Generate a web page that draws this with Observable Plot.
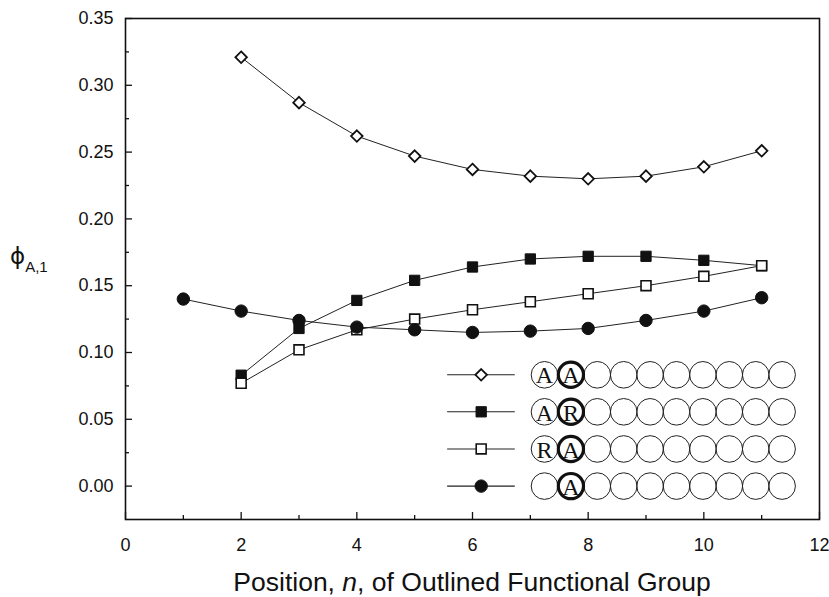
<!DOCTYPE html>
<html>
<head>
<meta charset="utf-8">
<script src="https://cdn.jsdelivr.net/npm/d3@7"></script>
<script src="https://cdn.jsdelivr.net/npm/@observablehq/plot@0.6"></script>
<style>
  body { margin: 0; background: #fff; }
  #chart svg { display: block; }
</style>
</head>
<body>
<div id="chart"></div>
<script>
// Position n of the outlined functional group
const positionsA = [1, 2, 3, 4, 5, 6, 7, 8, 9, 10, 11];
const positions = [2, 3, 4, 5, 6, 7, 8, 9, 10, 11];

// phi_A,1 for each chain type
const seriesAA = [0.321, 0.287, 0.262, 0.247, 0.237, 0.232, 0.230, 0.232, 0.239, 0.251];
const seriesAR = [0.083, 0.118, 0.139, 0.154, 0.164, 0.170, 0.172, 0.172, 0.169, 0.165];
const seriesRA = [0.077, 0.102, 0.117, 0.125, 0.132, 0.138, 0.144, 0.150, 0.157, 0.165];
const seriesA  = [0.140, 0.131, 0.124, 0.119, 0.117, 0.115, 0.116, 0.118, 0.124, 0.131, 0.141];

// Axis ticks
const xMajor = [0, 2, 4, 6, 8, 10, 12];
const xMinor = [1, 3, 5, 7, 9, 11];
const yMajor = [0.00, 0.05, 0.10, 0.15, 0.20, 0.25, 0.30, 0.35];
const yMinor = [0.025, 0.075, 0.125, 0.175, 0.225, 0.275, 0.325];

// Key: chain sketches, letters in the first two groups
const keySeries = ["AA", "AR", "RA", "A"];
const keyLetters = [["A", "A"], ["A", "R"], ["R", "A"], ["", "A"]];
const keyRowY = [0.0833, 0.0556, 0.0278, 0.0];
const chainLength = 10;

// Marker styles per series
const markers = {
  AA: {symbol: "diamond2", fill: "white", r: 5.2, strokeWidth: 1.8},
  AR: {symbol: "square", fill: "#111", r: 5.8, strokeWidth: 1},
  RA: {symbol: "square", fill: "white", r: 5.6, strokeWidth: 1.6},
  A:  {symbol: "circle", fill: "#111", r: 6.2, strokeWidth: 1}
};

const table = [
  ...positions.map((n, i) => ({series: "AA", n, phi: seriesAA[i]})),
  ...positions.map((n, i) => ({series: "AR", n, phi: seriesAR[i]})),
  ...positions.map((n, i) => ({series: "RA", n, phi: seriesRA[i]})),
  ...positionsA.map((n, i) => ({series: "A", n, phi: seriesA[i]}))
];

// Key layout in data units
const keyLine = [5.57, 6.74];
const keyMarkX = 6.15;
const chainX0 = 7.245;
const chainStep = 0.4565;

const keyChain = keySeries.flatMap((s, i) =>
  d3.range(chainLength).map(k => ({
    series: s, k, x: chainX0 + k * chainStep, y: keyRowY[i],
    letter: keyLetters[i][k] || ""
  })));

const seriesMarks = keySeries.map(s => {
  const m = markers[s];
  return Plot.dot(table.filter(d => d.series === s), {
    x: "n", y: "phi", symbol: m.symbol, r: m.r, fill: m.fill,
    stroke: "#111", strokeWidth: m.strokeWidth
  });
});

const keyMarks = keySeries.map((s, i) => {
  const m = markers[s];
  return [
    Plot.ruleY([keyRowY[i]], {x1: keyLine[0], x2: keyLine[1], stroke: "#222", strokeWidth: 1.1}),
    Plot.dot([keyRowY[i]], {x: keyMarkX, y: d => d, symbol: m.symbol, r: m.r, fill: m.fill,
      stroke: "#111", strokeWidth: m.strokeWidth})
  ];
});

const width = 829, height = 597;
const margin = {left: 125, right: 10, top: 18, bottom: 78};
const plotW = width - margin.left - margin.right;
const plotH = height - margin.top - margin.bottom;
const majorLen = 7, minorLen = 4;
const tickStyle = {stroke: "#111", strokeWidth: 1.3};

const chart = Plot.plot({
  width, height,
  marginLeft: margin.left,
  marginRight: margin.right,
  marginTop: margin.top,
  marginBottom: margin.bottom,
  style: {fontFamily: "'Liberation Sans', Arial, sans-serif", fontSize: "18px", color: "#111", background: "#fff"},
  x: {domain: [0, 12]},
  y: {domain: [-0.025, 0.35]},
  marks: [
    Plot.axisX(xMajor, {tickSize: 0, tickPadding: 19, label: null, fontSize: 18}),
    Plot.axisY(yMajor, {tickSize: 0, tickPadding: 12, label: null, fontSize: 18, tickFormat: d3.format(".2f")}),
    // inward ticks along the bottom and left edges
    Plot.tickX(xMajor, {x: d => d, insetTop: plotH - majorLen, ...tickStyle}),
    Plot.tickX(xMinor, {x: d => d, insetTop: plotH - minorLen, ...tickStyle}),
    Plot.tickY(yMajor, {y: d => d, insetRight: plotW - majorLen, ...tickStyle}),
    Plot.tickY(yMinor, {y: d => d, insetRight: plotW - minorLen, ...tickStyle}),
    Plot.line(table, {x: "n", y: "phi", z: "series", stroke: "#222", strokeWidth: 1}),
    ...seriesMarks,
    ...keyMarks.flat(),
    Plot.dot(keyChain.filter(d => d.k !== 1), {x: "x", y: "y", r: 13.3, fill: "none", stroke: "#222", strokeWidth: 1}),
    Plot.dot(keyChain.filter(d => d.k === 1), {x: "x", y: "y", r: 12.6, fill: "none", stroke: "#111", strokeWidth: 3.2}),
    Plot.text(keyChain.filter(d => d.letter), {x: "x", y: "y", text: "letter", fontFamily: "'Liberation Serif', 'Times New Roman', serif", fontSize: 24, fill: "#111", dy: 1}),
    Plot.frame({stroke: "#111", strokeWidth: 1.6})
  ]
});

document.getElementById("chart").append(chart);

// Axis titles with italic and subscript parts
const svg = d3.select(chart);
const xs = chart.scale("x");
const xTitle = svg.append("text")
  .attr("x", xs.apply(6))
  .attr("y", 591)
  .attr("text-anchor", "middle")
  .attr("font-size", 26.5)
  .attr("fill", "#111");
xTitle.append("tspan").text("Position, ");
xTitle.append("tspan").attr("font-style", "italic").text("n");
xTitle.append("tspan").text(", of Outlined Functional Group");

const yTitle = svg.append("text")
  .attr("x", 10)
  .attr("y", 264)
  .attr("text-anchor", "start")
  .attr("fill", "#111");
yTitle.append("tspan").attr("font-size", 23).attr("font-family", "'DejaVu Sans', sans-serif").text("ϕ");
yTitle.append("tspan").attr("font-size", 15).attr("dy", 8).text("A,1");
</script>
</body>
</html>
